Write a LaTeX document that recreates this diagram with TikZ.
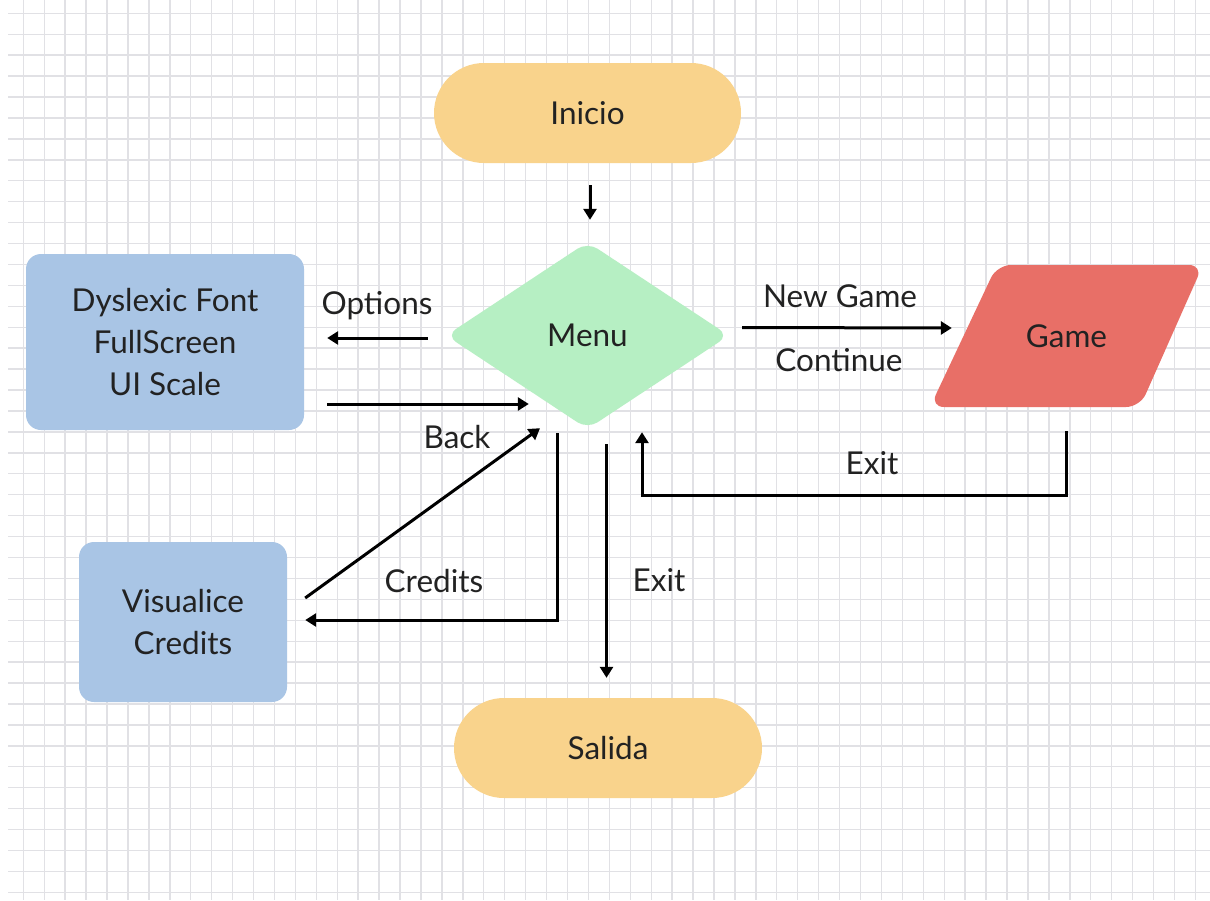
\documentclass[tikz,border=0pt]{standalone}
\usepackage{fontspec}
\setmainfont{Lato}
\usetikzlibrary{shapes.geometric,arrows.meta,calc}
\definecolor{gridcol}{HTML}{E1E1E5}
\definecolor{termcol}{HTML}{F9D38C}
\definecolor{menucol}{HTML}{B6EFC3}
\definecolor{boxcol}{HTML}{A9C5E5}
\definecolor{gamecol}{HTML}{E86F67}
\definecolor{txtcol}{HTML}{222222}
\tikzset{
  base/.style={text=txtcol, font=\fontsize{31.5}{42}\selectfont, inner sep=0pt, align=center},
  term/.style={base, fill=termcol, rectangle, rounded corners=50pt, minimum width=307pt, minimum height=100pt},
  menubox/.style={base, fill=menucol, diamond, rounded corners=12pt, minimum width=283pt, minimum height=187pt},
  optbox/.style={base, fill=boxcol, rectangle, rounded corners=15pt},
  lbl/.style={text=txtcol, font=\fontsize{31.5}{36}\selectfont, inner sep=0pt},
  arr/.style={line width=3pt, draw=black, -{Triangle[length=11pt,width=13pt]}},
  plain/.style={line width=3pt, draw=black}
}
\begin{document}
\begin{tikzpicture}[x=1pt,y=-1pt]
\useasboundingbox (0,0) rectangle (1210,900);
\fill[white] (0,0) rectangle (1210,900);
% grid
\foreach \k in {0,...,56} {
  \draw[gridcol, line width=1.4pt] ({23.3+20.93*\k},0) -- ({23.3+20.93*\k},900);
}
\foreach \k in {0,...,42} {
  \draw[gridcol, line width=1.4pt] (8,{13.3+20.93*\k}) -- (1210,{13.3+20.93*\k});
}
% nodes
\node[term] (inicio) at (587.5,113) {Inicio};
\node[menubox] (menu) at (587.5,335.5) {Menu};
\node[optbox, minimum width=278pt, minimum height=176pt] (dys) at (165,342) {Dyslexic Font\\FullScreen\\UI Scale};
\node[optbox, minimum width=208pt, minimum height=160pt] (visual) at (183,622) {Visualice\\Credits};
\node[term, minimum width=308pt] (salida) at (608,748) {Salida};
\fill[gamecol, rounded corners=14pt] (997,265) -- (1203,265) -- (1140,407) -- (930,407) -- cycle;
\node[base, minimum width=273pt, minimum height=142pt] (game) at (1066.5,336) {Game};
% labels
\node[lbl] (lopt) at (377,306) {Options};
\node[lbl] (lback) at (457,437) {Back};
\node[lbl] (lcred) at (434,581) {Credits};
\node[lbl] (lexit1) at (659,580) {Exit};
\node[lbl] (lnew) at (840,296) {New Game};
\node[lbl] (lcont) at (839,360) {Continue};
\node[lbl] (lexit2) at (872,463) {Exit};
% connectors
\draw[arr] ([shift={(2.5,22)}]inicio.south) -- ([shift={(2.5,-22)}]menu.north);
\draw[arr] ([shift={(-18,2.5)}]menu.west) -- ([shift={(23,-4)}]dys.east);
\draw[arr] ([shift={(23,62)}]dys.east) -- ([shift={(83,68.5)}]menu.west);
\draw[arr] ([shift={(-30.5,4)}]menu.south) |- ([shift={(18,-2)}]visual.east);
\draw[arr] ([shift={(18,-24)}]visual.east) -- ([shift={(-47.5,-1)}]menu.south);
\draw[arr] ([shift={(19,15)}]menu.south) -- ([shift={(-1.5,-20)}]salida.north);
\draw[arr] ([shift={(13,-8)}]menu.east) -- ([shift={(22,-8)}]game.west);
\draw[arr] ([shift={(0,24)}]game.south) -- ++(0,64) -| ([shift={(54.5,3)}]menu.south);
\end{tikzpicture}
\end{document}
